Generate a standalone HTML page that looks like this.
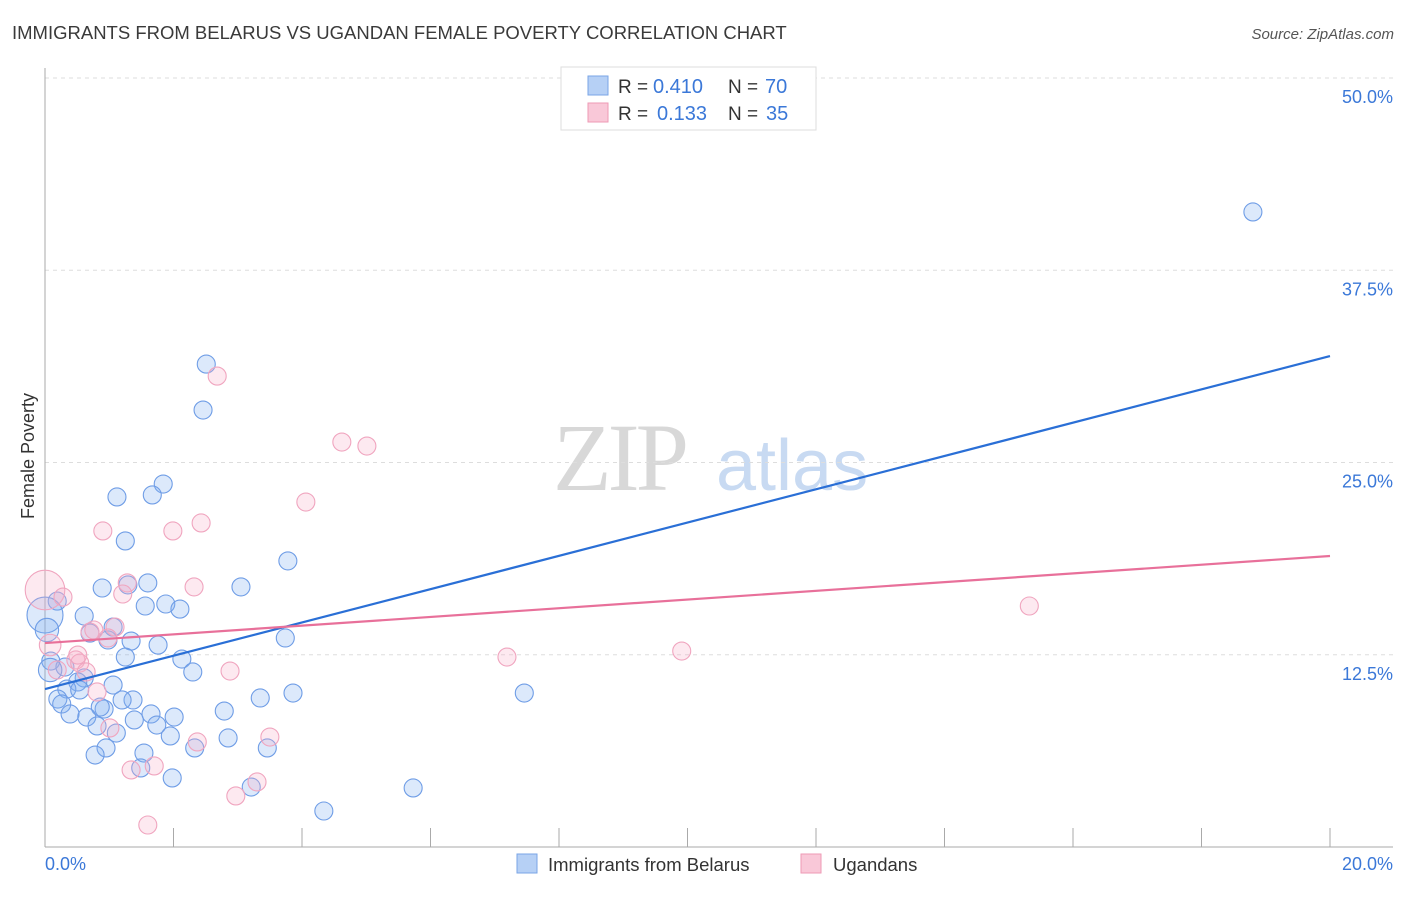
<!DOCTYPE html>
<html><head><meta charset="utf-8"><style>
body{margin:0;background:#fff;font-family:"Liberation Sans",sans-serif;}
svg text{font-family:"Liberation Sans",sans-serif;}
</style></head><body>
<svg id="chart" width="1406" height="892" xmlns="http://www.w3.org/2000/svg">
<text x="12" y="39" font-size="18.5" fill="#3a3a3a">IMMIGRANTS FROM BELARUS VS UGANDAN FEMALE POVERTY CORRELATION CHART</text>
<text x="1394" y="39" font-size="15" fill="#555" font-style="italic" text-anchor="end">Source: ZipAtlas.com</text>
<g>
<text x="553" y="490" font-size="96" fill="#d8d8d8" style="font-family:'Liberation Serif',serif" letter-spacing="-4">ZIP</text>
<text x="716" y="490" font-size="72" fill="#c8daf2">atlas</text>
</g>
<g id="grid"></g>
<g id="axes"></g>
<g id="pts"></g>
<g id="lines"></g>
<text transform="translate(34,456) rotate(-90)" font-size="18" fill="#333" text-anchor="middle">Female Poverty</text>
<g>
<rect x="561" y="67" width="255" height="63" fill="#fff" stroke="#ddd"/>
<rect x="588" y="76" width="20" height="19" fill="#b6d0f5" stroke="#7aa5e6"/>
<rect x="588" y="103" width="20" height="19" fill="#f9c8d8" stroke="#ee9ab5"/>
<text x="618" y="93" font-size="19" fill="#333">R =</text>
<text x="653" y="93" font-size="20" fill="#3b78d8">0.410</text>
<text x="728" y="93" font-size="19" fill="#333">N =</text>
<text x="765" y="93" font-size="20" fill="#3b78d8">70</text>
<text x="618" y="120" font-size="19" fill="#333">R =</text>
<text x="657" y="120" font-size="20" fill="#3b78d8">0.133</text>
<text x="728" y="120" font-size="19" fill="#333">N =</text>
<text x="766" y="120" font-size="20" fill="#3b78d8">35</text>
</g>
<g>
<rect x="517" y="854" width="20" height="19" fill="#b6d0f5" stroke="#7aa5e6"/>
<text x="548" y="871" font-size="18.5" fill="#333">Immigrants from Belarus</text>
<rect x="801" y="854" width="20" height="19" fill="#f9c8d8" stroke="#ee9ab5"/>
<text x="833" y="871" font-size="18.5" fill="#333">Ugandans</text>
</g>
</svg>
<script>
const yTicks=[12.5,25,37.5,50];
const yTickLabels=["12.5%","25.0%","37.5%","50.0%"];
const xTickLabels=["0.0%","20.0%"];
const blueX=[18.80,2.51,2.46,1.84,1.67,1.12,1.25,3.78,3.05,1.60,0.89,1.29,0.19,1.88,2.10,1.56,0.61,0,1.06,0.70,1.34,0.98,1.76,3.74,1.25,2.13,0.09,0.31,2.30,0.61,0.51,1.06,3.86,7.46,0.34,0.54,3.35,1.37,1.20,0.20,0.26,2.79,0.92,0.86,0.39,0.65,1.65,2.01,1.39,1.74,0.81,1.95,2.85,1.11,0.95,3.46,2.33,1.54,0.78,1.49,1.98,3.21,5.73,4.34,0.03,0.08];
const blueY=[41.29,31.40,28.41,23.60,22.89,22.76,19.90,18.60,16.91,17.17,16.84,17.04,15.99,15.80,15.47,15.67,15.02,15.08,14.30,13.91,13.39,13.46,13.13,13.59,12.35,12.22,12.09,11.70,11.38,10.99,10.73,10.53,10.01,10.01,10.27,10.21,9.69,9.56,9.56,9.62,9.30,8.84,8.97,9.10,8.65,8.45,8.65,8.45,8.26,7.93,7.87,7.22,7.09,7.41,6.44,6.44,6.44,6.11,5.98,5.14,4.49,3.90,3.84,2.34,14.11,11.51];
const blueSize=[1,1,1,1,1,1,1,1,1,1,1,1,1,1,1,1,1,2,1,1,1,1,1,1,1,1,1,1,1,1,1,1,1,1,1,1,1,1,1,1,1,1,1,1,1,1,1,1,1,1,1,1,1,1,1,1,1,1,1,1,1,1,1,1,1.3,1.3];
const pinkX=[2.68,4.62,5.01,4.06,2.43,1.99,0.90,0,0.28,1.28,1.21,2.32,2.88,15.32,7.19,9.91,0.70,1.09,0.98,0.76,0.08,0.48,0.54,0.64,0.19,0.81,1.01,2.37,3.50,1.34,1.70,3.30,2.97,1.60,0.51];
const pinkY=[30.62,26.33,26.07,22.43,21.07,20.55,20.55,16.71,16.25,17.17,16.45,16.91,11.44,15.67,12.35,12.74,13.98,14.30,13.59,14.11,13.13,12.16,11.96,11.38,11.51,10.08,7.74,6.83,7.15,5.01,5.27,4.23,3.32,1.43,12.48];
const pinkSize=[1,1,1,1,1,1,1,2.2,1,1,1,1,1,1,1,1,1,1,1,1,1.2,1,1,1,1,1,1,1,1,1,1,1,1,1,1];
const blueLine=[10.27,31.92];
const pinkLine=[13.26,18.92];
const X0=45,X1=1330,Y0=847,PXPER=15.38;
const sx=v=>X0+(X1-X0)*v/20;
const sy=v=>Y0-v*PXPER;
const NS="http://www.w3.org/2000/svg";
function mk(tag,attrs,parent){const e=document.createElementNS(NS,tag);for(const k in attrs)e.setAttribute(k,attrs[k]);document.getElementById(parent).appendChild(e);return e;}
yTicks.forEach((t,i)=>{
 const g=mk('line',{x1:45,x2:1393,y1:sy(t),y2:sy(t),stroke:'#ddd','stroke-dasharray':'4,4'},'grid');
 
 
 const l=mk('text',{x:1393,y:sy(t)+25,'font-size':18,fill:'#3b78d8','text-anchor':'end'},'grid');
 l.textContent=yTickLabels[i];
 
 
});
const ax=mk('line',{x1:45,x2:45,y1:68,y2:847,stroke:'#aaa'},'axes');


const bx=mk('line',{x1:45,x2:1393,y1:847,y2:847,stroke:'#aaa'},'axes');


for(let v=2;v<=20;v+=2){
 const t=mk('line',{x1:sx(v),x2:sx(v),y1:828,y2:847,stroke:'#aaa'},'axes');
 
 
}
const xl0=mk('text',{x:45,y:870,'font-size':18,fill:'#3b78d8'},'axes');
xl0.textContent=xTickLabels[0];


const xl1=mk('text',{x:1393,y:870,'font-size':18,fill:'#3b78d8','text-anchor':'end'},'axes');
xl1.textContent=xTickLabels[1];


blueX.forEach((x,i)=>{
 const c=mk('circle',{cx:sx(x),cy:sy(blueY[i]),r:9*blueSize[i],fill:'rgba(130,175,240,0.28)',stroke:'#6f9de6','stroke-width':1.1},'pts');
 
 
});
pinkX.forEach((x,i)=>{
 const c=mk('circle',{cx:sx(x),cy:sy(pinkY[i]),r:9*pinkSize[i],fill:'rgba(248,175,200,0.28)',stroke:'#f0a5bf','stroke-width':1.1},'pts');
 
 
});
const bl=mk('line',{x1:sx(0),y1:sy(blueLine[0]),x2:sx(20),y2:sy(blueLine[1]),stroke:'#2a6fd6','stroke-width':2.2},'lines');


const pl=mk('line',{x1:sx(0),y1:sy(pinkLine[0]),x2:sx(20),y2:sy(pinkLine[1]),stroke:'#e8709a','stroke-width':2.2},'lines');


</script>
</body></html>
